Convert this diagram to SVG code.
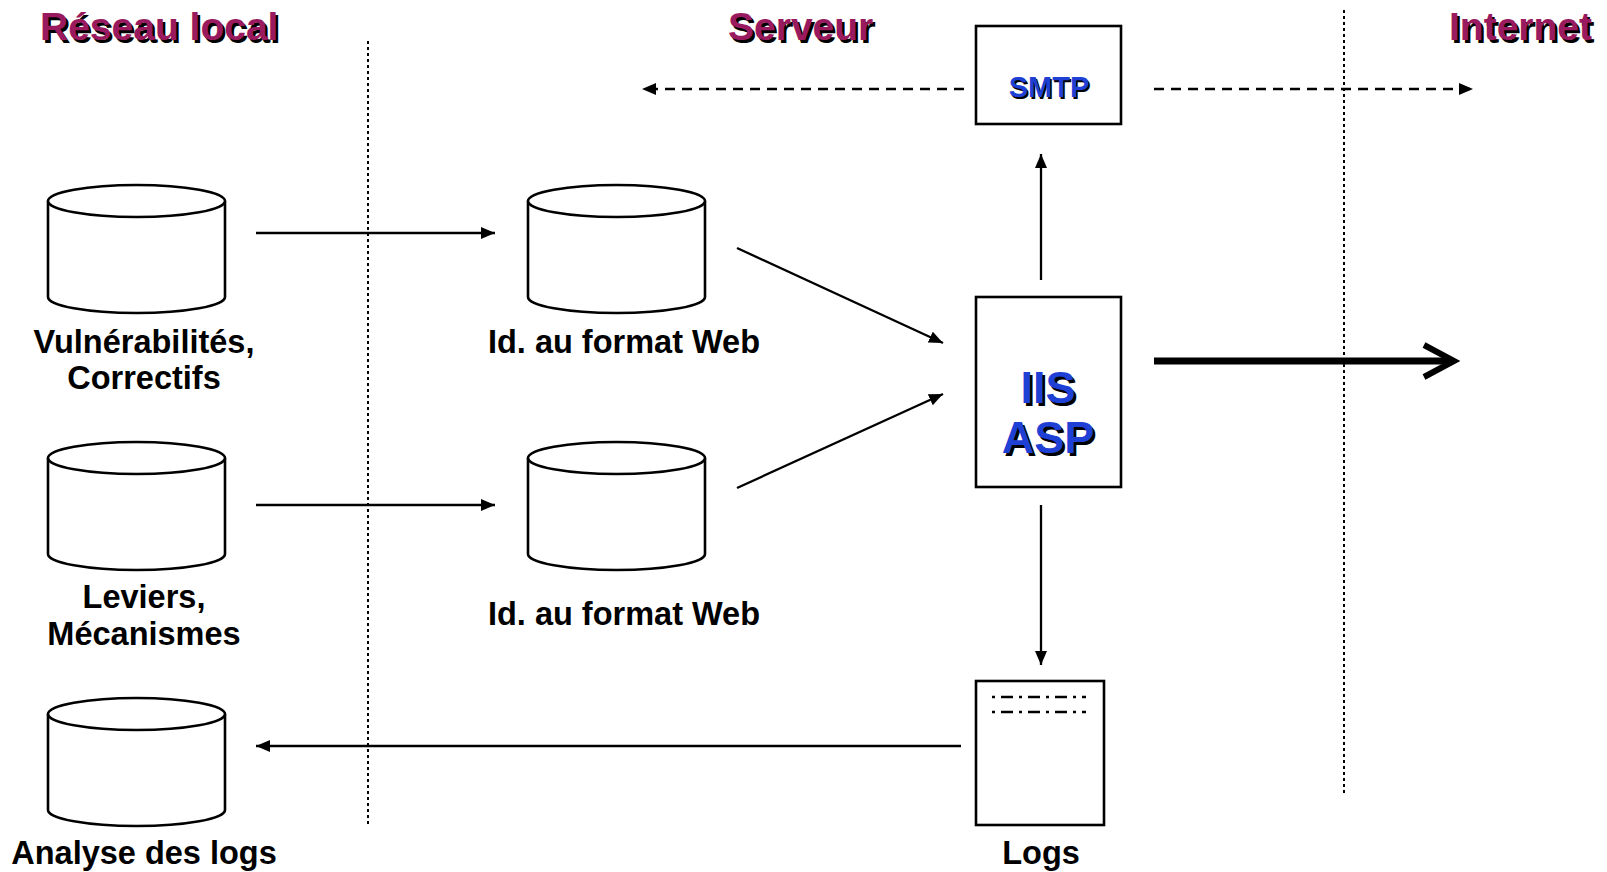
<svg xmlns="http://www.w3.org/2000/svg" width="1607" height="872" viewBox="0 0 1607 872">
<defs>
<style>
.bg{fill:#fff}
.shape{fill:#fff;stroke:#000;stroke-width:2.6}
.lbl{font-family:"Liberation Sans",Arial,sans-serif;font-weight:bold;font-size:32.5px;fill:#000;text-anchor:middle}
.title{font-family:"Liberation Sans",Arial,sans-serif;font-weight:bold;font-size:39px;text-anchor:start}
.tf{fill:#991A5E}
.sh{fill:#000}
.blue{font-family:"Liberation Sans",Arial,sans-serif;font-weight:bold;text-anchor:middle}
.bf{fill:#1E40D4}
.sep{stroke:#000;stroke-width:2;stroke-dasharray:3 3;fill:none}
.conn{stroke:#000;stroke-width:2.3;fill:none}
.dash{stroke:#000;stroke-width:2.3;fill:none;stroke-dasharray:10 7}
.logline{stroke:#000;stroke-width:2.4;stroke-dasharray:3 6 12 6}
</style>
<marker id="ah" markerUnits="userSpaceOnUse" markerWidth="16" markerHeight="14" refX="14" refY="6" orient="auto">
<path d="M0,0 L14,6 L0,12 Z" fill="#000"/>
</marker>
<g id="cyl">
<path class="shape" d="M0,16 L0,112 A88.5,16 0 0 0 177,112 L177,16"/>
<ellipse class="shape" cx="88.5" cy="16" rx="88.5" ry="16"/>
</g>
</defs>
<rect class="bg" width="1607" height="872"/>

<g id="titles">
<text class="title sh" x="42.5" y="42.5">Réseau local</text>
<text class="title tf" x="40" y="40">Réseau local</text>
<text class="title sh" x="730.5" y="42.5">Serveur</text>
<text class="title tf" x="728" y="40">Serveur</text>
<text class="title sh" x="1451.5" y="42.5">Internet</text>
<text class="title tf" x="1449" y="40">Internet</text>
</g>

<g id="separators">
<line class="sep" x1="368" y1="41" x2="368" y2="825"/>
<line class="sep" x1="1344" y1="10" x2="1344" y2="793"/>
</g>

<g id="connectors">
<line class="conn" x1="256" y1="233" x2="495" y2="233" marker-end="url(#ah)"/>
<line class="conn" x1="256" y1="505" x2="495" y2="505" marker-end="url(#ah)"/>
<line class="conn" x1="737" y1="248" x2="943" y2="343" marker-end="url(#ah)"/>
<line class="conn" x1="737" y1="488" x2="943" y2="394" marker-end="url(#ah)"/>
<line class="conn" x1="1041" y1="280" x2="1041" y2="154" marker-end="url(#ah)"/>
<line class="conn" x1="1041" y1="505" x2="1041" y2="665" marker-end="url(#ah)"/>
<line class="conn" x1="961" y1="746" x2="256" y2="746" marker-end="url(#ah)"/>
<line class="dash" x1="964" y1="89" x2="642" y2="89" marker-end="url(#ah)"/>
<line class="dash" x1="1154" y1="89" x2="1473" y2="89" marker-end="url(#ah)"/>
<line x1="1154" y1="361" x2="1450" y2="361" stroke="#000" stroke-width="7"/>
<path d="M1424,345 L1454,361 L1424,377" fill="none" stroke="#000" stroke-width="6"/>
</g>

<g id="node-vuln">
<use href="#cyl" x="48" y="185"/>
<text class="lbl" x="144" y="353">Vulnérabilités,</text>
<text class="lbl" x="144" y="389">Correctifs</text>
</g>
<g id="node-leviers">
<use href="#cyl" x="48" y="442"/>
<text class="lbl" x="144" y="608">Leviers,</text>
<text class="lbl" x="144" y="645">Mécanismes</text>
</g>
<g id="node-analyse">
<use href="#cyl" x="48" y="698"/>
<text class="lbl" x="144" y="864">Analyse des logs</text>
</g>
<g id="node-web1">
<use href="#cyl" x="528" y="185"/>
<text class="lbl" x="624" y="353">Id. au format Web</text>
</g>
<g id="node-web2">
<use href="#cyl" x="528" y="442"/>
<text class="lbl" x="624" y="625">Id. au format Web</text>
</g>
<g id="node-smtp">
<rect class="shape" x="976" y="26" width="145" height="98"/>
<text class="blue sh" x="1050.5" y="98.5" font-size="29">SMTP</text>
<text class="blue bf" x="1049" y="97" font-size="29">SMTP</text>
</g>
<g id="node-iis">
<rect class="shape" x="976" y="297" width="145" height="190"/>
<text class="blue sh" x="1050.5" y="405.5" font-size="45">IIS</text>
<text class="blue bf" x="1048" y="403" font-size="45">IIS</text>
<text class="blue sh" x="1050.5" y="455.5" font-size="45">ASP</text>
<text class="blue bf" x="1048" y="453" font-size="45">ASP</text>
</g>
<g id="node-logs">
<rect class="shape" x="976" y="681" width="128" height="144"/>
<line class="logline" x1="992" y1="697" x2="1086" y2="697"/>
<line class="logline" x1="992" y1="712" x2="1086" y2="712"/>
<text class="lbl" x="1041" y="864">Logs</text>
</g>
</svg>
